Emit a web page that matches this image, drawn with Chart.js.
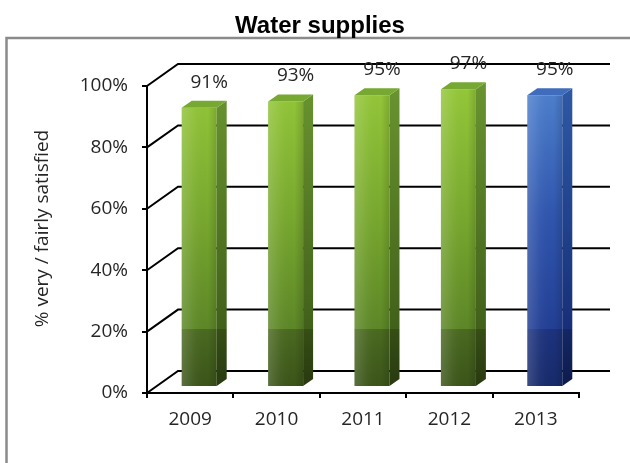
<!DOCTYPE html>
<html>
<head>
<meta charset="utf-8">
<script src="https://cdn.jsdelivr.net/npm/chart.js@4.4.1/dist/chart.umd.min.js"></script>
<style>
  html, body { margin: 0; padding: 0; background: #fff; }
  #wrap { width: 630px; height: 463px; position: relative; }
</style>
</head>
<body>
<div id="wrap"><canvas id="chart"></canvas></div>
<script>
// ---- data ----
const years = ['2009', '2010', '2011', '2012', '2013'];
const satisfied = [91, 93, 95, 97, 95];
const yTickValues = [0, 20, 40, 60, 80, 100];
const chartTitle = 'Water supplies';
const yAxisTitle = '% very / fairly satisfied';
const highlightYear = '2013';

// ---- 3D look ----
const WALL = { dx: 31, dy: -22 };      // depth of the back wall
const BAR_SHIFT = { dx: 9, dy: -6 };   // bars stand a little behind the front plane
const BAR_DEPTH = { dx: 10, dy: -7 };  // thickness of each column

const GREEN = {
  front: [[0, '#96c93a'], [0.45, '#78a82e'], [0.81, '#5d8727'], [0.81, '#4b6a20'], [1, '#3a5419']],
  side:  [[0, '#6a9530'], [0.81, '#41601a'], [0.81, '#364f15'], [1, '#28390f']],
  top: '#76a832'
};
const BLUE = {
  front: [[0, '#5083d0'], [0.45, '#2f55ad'], [0.81, '#233f95'], [0.81, '#1d337f'], [1, '#172a6a']],
  side:  [[0, '#2e5aa6'], [0.81, '#172f78'], [0.81, '#132765'], [1, '#0d1b4c']],
  top: '#3f6dbb'
};

const TEXT_FONT = '"Open Sans", "Noto Sans", sans-serif';
const TITLE_FONT = 'bold 24px "Liberation Sans", Arial, sans-serif';

function paletteFor(i) {
  return years[i] === highlightYear ? BLUE : GREEN;
}

function vGradient(ctx, top, bottom, stops) {
  const g = ctx.createLinearGradient(0, top, 0, bottom);
  stops.forEach(([o, c]) => g.addColorStop(o, c));
  return g;
}

const columns3d = {
  id: 'columns3d',
  beforeDraw(chart) {
    const ctx = chart.ctx;
    ctx.save();
    // outer frame of the chart, running off the right and bottom edges
    ctx.strokeStyle = '#8a8a8a';
    ctx.lineWidth = 2.5;
    ctx.strokeRect(6.5, 38, chart.width + 20, chart.height + 20);
    // title, centred over the frame
    ctx.fillStyle = '#000';
    ctx.font = TITLE_FONT;
    ctx.textAlign = 'center';
    ctx.textBaseline = 'alphabetic';
    ctx.fillText(chartTitle, 320, 33);
    ctx.restore();
  },
  afterDraw(chart) {
    // rotated y-axis title
    const { ctx, chartArea: a } = chart;
    ctx.save();
    ctx.translate(43, (a.top + a.bottom) / 2 - 11);
    ctx.rotate(-Math.PI / 2);
    ctx.fillStyle = '#262626';
    ctx.font = '19px ' + TEXT_FONT;
    ctx.textAlign = 'center';
    ctx.textBaseline = 'middle';
    ctx.fillText(yAxisTitle, 0, 0);
    ctx.restore();
  },
  beforeDatasetsDraw(chart) {
    const { ctx, chartArea: a, scales: { y } } = chart;
    // left wall diagonals and back wall gridlines
    ctx.save();
    ctx.strokeStyle = '#000';
    ctx.lineWidth = 2;
    y.ticks.forEach(t => {
      const py = y.getPixelForValue(t.value);
      ctx.beginPath();
      ctx.moveTo(a.left, py);
      ctx.lineTo(a.left + WALL.dx, py + WALL.dy);
      ctx.lineTo(a.right + WALL.dx, py + WALL.dy);
      ctx.stroke();
    });
    ctx.restore();
    // columns are drawn slightly into the depth
    ctx.save();
    ctx.translate(BAR_SHIFT.dx, BAR_SHIFT.dy);
  },
  afterDatasetsDraw(chart) {
    const { ctx, chartArea: a } = chart;
    const meta = chart.getDatasetMeta(0);
    meta.data.forEach((bar, i) => {
      const { x, y, base, width } = bar.getProps(['x', 'y', 'base', 'width'], true);
      const l = x - width / 2, r = x + width / 2;
      const pal = paletteFor(i);

      // sheen across the front face
      const sheen = ctx.createLinearGradient(l, 0, r, 0);
      sheen.addColorStop(0, 'rgba(255,255,255,0.16)');
      sheen.addColorStop(0.35, 'rgba(255,255,255,0.04)');
      sheen.addColorStop(0.75, 'rgba(0,0,0,0.0)');
      sheen.addColorStop(1, 'rgba(0,0,0,0.14)');
      ctx.fillStyle = sheen;
      ctx.fillRect(l, y, width, base - y);

      // right side face
      ctx.beginPath();
      ctx.moveTo(r, y);
      ctx.lineTo(r + BAR_DEPTH.dx, y + BAR_DEPTH.dy);
      ctx.lineTo(r + BAR_DEPTH.dx, base + BAR_DEPTH.dy);
      ctx.lineTo(r, base);
      ctx.closePath();
      ctx.fillStyle = vGradient(ctx, a.top, a.bottom, pal.side);
      ctx.fill();

      // top face
      ctx.beginPath();
      ctx.moveTo(l, y);
      ctx.lineTo(l + BAR_DEPTH.dx, y + BAR_DEPTH.dy);
      ctx.lineTo(r + BAR_DEPTH.dx, y + BAR_DEPTH.dy);
      ctx.lineTo(r, y);
      ctx.closePath();
      ctx.fillStyle = pal.top;
      ctx.fill();
    });
    ctx.restore();

    // value labels
    ctx.save();
    ctx.fillStyle = '#262626';
    ctx.font = '19px ' + TEXT_FONT;
    ctx.textAlign = 'center';
    ctx.textBaseline = 'alphabetic';
    meta.data.forEach((bar, i) => {
      const { x, y } = bar.getProps(['x', 'y'], true);
      ctx.fillText(satisfied[i] + '%',
        x + BAR_SHIFT.dx + BAR_DEPTH.dx,
        y + BAR_SHIFT.dy - 20);
    });
    ctx.restore();
  }
};

new Chart(document.getElementById('chart'), {
  type: 'bar',
  data: {
    labels: years,
    datasets: [{
      data: satisfied,
      borderWidth: 0,
      clip: false,
      barPercentage: 0.405,
      categoryPercentage: 1,
      backgroundColor: c => {
        const a = c.chart.chartArea;
        if (!a) return '#78a82e';
        return vGradient(c.chart.ctx, a.top, a.bottom, paletteFor(c.dataIndex).front);
      }
    }]
  },
  options: {
    responsive: true,
    maintainAspectRatio: false,
    animation: false,
    devicePixelRatio: 1,
    layout: { padding: { left: 0, right: 51, top: 86, bottom: 0 } },
    plugins: {
      legend: { display: false },
      tooltip: { enabled: false },
      title: { display: false }
    },
    scales: {
      x: {
        afterFit: s => { s.height = 70; },
        grid: {
          offset: true,
          drawOnChartArea: false,
          drawTicks: true,
          tickLength: 5,
          color: '#000',
          lineWidth: 2
        },
        border: { display: true, color: '#000', width: 2 },
        ticks: {
          color: '#262626',
          padding: 10,
          font: { family: TEXT_FONT, size: 19 }
        }
      },
      y: {
        min: 0,
        max: 100,
        afterFit: s => { s.width = 147; },
        afterBuildTicks: s => { s.ticks = yTickValues.map(v => ({ value: v })); },
        grid: {
          drawOnChartArea: false,
          drawTicks: true,
          tickLength: 5,
          color: '#000',
          lineWidth: 2
        },
        border: { display: true, color: '#000', width: 2 },
        ticks: {
          color: '#262626',
          padding: 14,
          font: { family: TEXT_FONT, size: 19 },
          callback: v => v + '%'
        }
      }
    }
  },
  plugins: [columns3d]
});
</script>
</body>
</html>
